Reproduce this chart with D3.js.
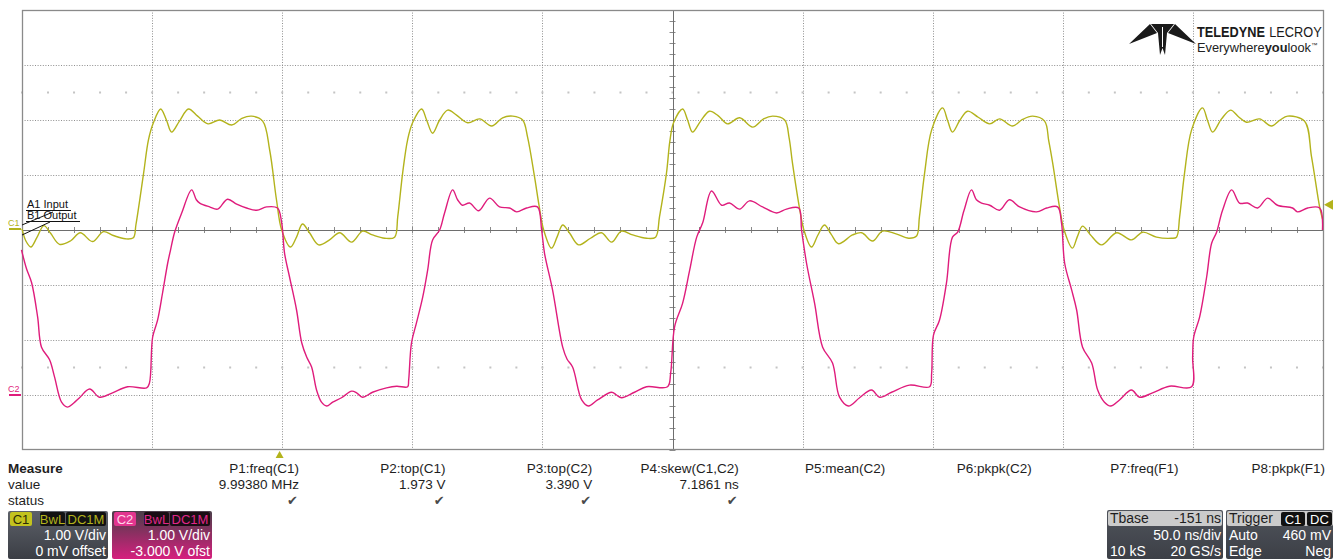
<!DOCTYPE html>
<html>
<head>
<meta charset="utf-8">
<script src="https://cdn.jsdelivr.net/npm/d3@7"></script>
<style>
  body { margin: 0; background: #fff; }
  svg { display: block; font-family: "Liberation Sans", Arial, sans-serif; }
</style>
</head>
<body>
<div id="scope"></div>
<script>
// Timebase: 50 ns/div, 10 divs, trigger (t=0) at -151 ns delay
var timeDomain = [-99, 401];
var nsPerDiv = 50;
// Volts shown on screen for each channel (1 V/div, 8 divs)
var c1Domain = [-4, 4];       // 0 mV offset
var c2Domain = [-1, 7];       // -3.000 V offset
var triggerLevel = 0.46;      // V on C1, negative edge

// C1 (input), [ns, V]
var c1Trace = [
  [-99,0.02],[-97.5,-0.2],[-95.6,-0.31],[-93.3,-0.14],[-90.6,0.08],[-88,-0.06],[-84.6,-0.26],[-80.4,-0.2],
  [-76.6,-0.05],[-71.9,-0.21],[-67.7,-0.03],[-63.9,-0.1],[-59.3,-0.16],[-56.2,-0.14],[-55.2,0.1],[-52.3,1.02],
  [-50.4,1.64],[-48.5,1.95],[-45.7,2.2],[-43.5,2.0],[-41.5,1.78],[-38.5,1.98],[-35,2.2],[-31.5,2.07],
  [-27.5,1.93],[-23,2.0],[-18.4,1.91],[-14.5,2.03],[-10.8,2.07],[-6.5,1.98],[-3.8,1.45],[-1.2,0.55],
  [0.8,0.0],[4.2,-0.31],[6.5,-0.13],[8.8,0.11],[11.5,-0.05],[15.0,-0.27],[19.2,-0.18],[23.1,-0.05],
  [27.7,-0.22],[31.9,-0.02],[35.7,-0.09],[40.4,-0.15],[44.2,-0.13],[45.4,0.24],[47.3,1.04],[49.2,1.64],
  [51.1,1.95],[54.6,2.2],[56.5,2.0],[58.8,1.76],[61.5,2.0],[64.6,2.18],[68.0,2.09],[72.3,1.95],
  [76.9,2.02],[81.5,1.89],[85.7,2.04],[89.6,2.07],[93.4,2.0],[95.3,1.69],[98.0,0.96],[99.8,0.42],
  [101.5,0.0],[104.5,-0.33],[106.7,-0.12],[108.8,0.09],[111.5,-0.06],[114.9,-0.27],[119.5,-0.15],[123.7,-0.05],
  [127.6,-0.22],[131.4,-0.02],[135.7,-0.09],[141.0,-0.15],[144.5,-0.13],[146.0,0.24],[148.7,1.04],[150.0,1.62],
  [151.4,1.95],[154.9,2.2],[156.8,2.0],[158.7,1.78],[161.8,1.98],[165.2,2.16],[168.5,2.08],[172.2,1.93],
  [176.8,2.04],[181.8,1.87],[186.0,2.02],[189.5,2.07],[194.1,2.0],[195.8,1.68],[197.1,1.22],[199.8,0.4],
  [201.5,0.0],[204.4,-0.31],[206.8,-0.1],[209.4,0.09],[212,-0.08],[214.8,-0.25],[220.2,-0.09],[223.7,-0.05],
  [227.9,-0.2],[231.7,-0.02],[236.9,-0.07],[241.8,-0.15],[244.8,-0.11],[245.9,0.24],[247.9,1.04],[250.6,1.82],
  [254.8,2.22],[256.8,1.98],[258.6,1.78],[261.5,2.0],[264.4,2.16],[268.5,2.05],[272.9,1.93],[276.7,2.02],
  [281.7,1.89],[285.5,2.01],[289.4,2.07],[294.0,1.98],[295.6,1.62],[297.1,1.22],[299.8,0.4],
  [301.5,0.0],[304.7,-0.33],[306.6,-0.12],[308.6,0.07],[311.5,-0.08],[315.9,-0.27],[321.7,-0.05],[327.4,-0.18],
  [331.7,-0.04],[337.0,-0.13],[342.8,-0.15],[344.7,-0.13],[345.9,0.24],[347.8,1.04],[350.5,1.82],[354.7,2.22],
  [356.7,1.98],[358.6,1.78],[362,2.02],[365.5,2.18],[368.5,2.06],[371.6,1.96],[376.6,2.02],[381.2,1.89],
  [384.5,2.0],[387.4,2.07],[393.9,1.98],[396.6,1.33],[399.7,0.42],[400.8,0.2]
];

// C2 (output), [ns, V]
var c2Trace = [
  [-99.2,2.64],[-97.3,2.3],[-95.3,2.04],[-93.0,1.42],[-91.5,0.87],[-88.4,0.64],[-86.5,0.33],[-83.8,-0.13],
  [-81.5,-0.22],[-79.2,-0.15],[-76.9,-0.05],[-73.0,0.11],[-69.2,-0.04],[-64.2,0.04],[-58.4,0.15],[-51.1,0.13],
  [-50.0,0.22],[-48.8,1.05],[-46.9,1.36],[-45.0,1.85],[-43.0,2.4],[-41.9,2.64],[-40.4,2.95],[-37.7,3.3],
  [-33.8,3.73],[-32,3.55],[-30.7,3.49],[-26.9,3.42],[-23.8,3.38],[-20.0,3.56],[-16.5,3.47],[-12.7,3.40],
  [-8.8,3.36],[-5.0,3.42],[-0.8,3.40],
  [0.8,3.13],[1.9,2.58],[3.8,2.15],[6.5,1.55],[8.5,0.95],[10.4,0.69],[12.3,0.51],[14.2,0.09],
  [16.1,-0.13],[18.1,-0.2],[20.4,-0.13],[23.8,-0.05],[27.7,0.07],[29.6,0.04],[31.9,-0.04],[35.7,0.05],
  [41.1,0.13],[45.0,0.16],[49.2,0.15],[49.6,0.27],[50.7,0.95],[52.6,1.31],[55.0,1.78],[56.9,2.27],
  [58.8,2.82],[61.5,3.0],[63.4,3.31],[66.5,3.73],[68.4,3.55],[70.3,3.45],[73.0,3.49],[76.5,3.35],
  [80.7,3.58],[84.5,3.42],[88.4,3.40],[91.1,3.33],[94.9,3.40],[99.1,3.42],
  [100.7,3.0],[101.8,2.58],[104.9,1.91],[108.8,0.87],[110.5,0.65],[112.6,0.51],[116.1,-0.09],[118.7,-0.2],
  [122.2,-0.09],[127.6,0.05],[129.5,0.0],[131.4,-0.05],[136.4,0.05],[141.0,0.15],[149.1,0.15],[150.3,0.4],
  [151.8,1.24],[154.9,1.67],[157.6,2.27],[160.3,2.87],[162.6,3.13],[166.0,3.71],[169.9,3.45],[172.9,3.49],
  [176.8,3.38],[180.6,3.53],[185.6,3.42],[191.0,3.31],[194.8,3.38],[199.5,3.40],
  [200.6,3.0],[202.5,2.4],[205.6,1.67],[208.7,0.87],[212.5,0.58],[215.2,-0.04],[218.6,-0.2],[222.9,-0.05],
  [227.5,0.09],[230.6,-0.04],[235.2,0.05],[242.1,0.18],[249.8,0.15],[250.6,0.4],[251.3,1.09],[253.6,1.36],
  [256.3,2.04],[258.6,2.87],[260.6,2.96],[263,3.35],[265.9,3.73],[267.8,3.55],[269.8,3.49],[272.9,3.45],
  [276.7,3.36],[280.5,3.55],[284.4,3.42],[290.9,3.33],[294.8,3.40],[299.0,3.42],
  [300.5,3.13],[301.7,2.4],[304.4,1.91],[306.3,1.55],[308.6,0.87],[312.1,0.58],[314.4,0.09],[317.0,-0.13],
  [319.4,-0.2],[322.8,-0.09],[327.4,0.09],[330.5,-0.04],[335.5,0.04],[342.0,0.16],[350.5,0.15],[350.9,0.69],
  [351.3,1.05],[353.6,1.42],[356.3,2.15],[358.2,2.76],[360.1,2.96],[362.4,3.36],[365.9,3.73],[368.9,3.49],
  [372.0,3.49],[375.9,3.40],[379.7,3.58],[383.5,3.45],[389.3,3.40],[391.2,3.33],[395.1,3.40],[399.7,3.40],
  [400.8,3.0]
];

// Measurement table
var measureNames = ["P1:freq(C1)", "P2:top(C1)", "P3:top(C2)", "P4:skew(C1,C2)",
                    "P5:mean(C2)", "P6:pkpk(C2)", "P7:freq(F1)", "P8:pkpk(F1)"];
var measureValues = ["9.99380 MHz", "1.973 V", "3.390 V", "7.1861 ns", "", "", "", ""];
var measureStatus = [true, true, true, true, false, false, false, false];

// Channel / timebase / trigger descriptors
var chanNames = ["C1", "C2"];
var chanVdiv = ["1.00 V/div", "1.00 V/div"];
var chanOffset = ["0 mV offset", "-3.000 V ofst"];
var tbaseText = ["Tbase", "-151 ns", "50.0 ns/div", "10 kS", "20 GS/s"];
var trigText = ["Trigger", "Auto", "460 mV", "Edge", "Neg"];

var W = 1333, H = 559;
var grid = {left: 22, right: 1323, top: 10, bottom: 450};
var c1Color = "#b3b31c", c2Color = "#df1c7c";

var svg = d3.select("#scope").append("svg")
    .attr("width", W).attr("height", H)
    .attr("viewBox", "0 0 " + W + " " + H);

var x = d3.scaleLinear().domain(timeDomain).range([grid.left, grid.right]);
var y1 = d3.scaleLinear().domain(c1Domain).range([grid.bottom, grid.top]);
var y2 = d3.scaleLinear().domain(c2Domain).range([grid.bottom, grid.top]);
var tCenter = (timeDomain[0] + timeDomain[1]) / 2;

var defs = svg.append("defs");
function grad(id, top, bottom) {
    var g = defs.append("linearGradient").attr("id", id)
        .attr("x1", 0).attr("y1", 0).attr("x2", 0).attr("y2", 1);
    g.append("stop").attr("offset", "0%").attr("stop-color", top);
    g.append("stop").attr("offset", "100%").attr("stop-color", bottom);
}
grad("gC1", "#5d6169", "#3b3e45");
grad("gC2", "#4a3e49", "#d61f7e");
grad("gTb", "#50545c", "#3c3f46");

// ---- graticule ----
var gGrid = svg.append("g");
var vTicks = d3.range(c1Domain[0] + 1, c1Domain[1], 1);
var tTicks = d3.range(timeDomain[0] + nsPerDiv, timeDomain[1] - 1, nsPerDiv);

gGrid.selectAll(".hl").data(vTicks.filter(function (v) { return v !== 0; }))
    .enter().append("line")
    .attr("x1", grid.left).attr("x2", grid.right)
    .attr("y1", function (v) { return y1(v) + 0.5; }).attr("y2", function (v) { return y1(v) + 0.5; })
    .attr("stroke", "#8f8f8f").attr("stroke-dasharray", "1,1.6");
gGrid.selectAll(".vl").data(tTicks.filter(function (t) { return Math.abs(t - tCenter) > 1; }))
    .enter().append("line")
    .attr("y1", grid.top).attr("y2", grid.bottom)
    .attr("x1", function (t) { return Math.round(x(t)) + 0.5; }).attr("x2", function (t) { return Math.round(x(t)) + 0.5; })
    .attr("stroke", "#8f8f8f").attr("stroke-dasharray", "1,1.6");

// minor marks: rows at +/-2.5 div and ticks on the centre axes
var minorT = d3.range(timeDomain[0], timeDomain[1] + 0.1, nsPerDiv / 5);
[2.5, -2.5].forEach(function (v) {
    gGrid.selectAll(null).data(minorT).enter().append("rect")
        .attr("x", function (t) { return x(t) - 1; }).attr("y", y1(v) - 1)
        .attr("width", 2).attr("height", 2).attr("fill", "#c4c4c4");
});
gGrid.selectAll(null).data(minorT).enter().append("line")
    .attr("x1", function (t) { return Math.round(x(t)) + 0.5; }).attr("x2", function (t) { return Math.round(x(t)) + 0.5; })
    .attr("y1", y1(0) - 3).attr("y2", y1(0) + 3)
    .attr("stroke", "#8a8a8a");
var minorV = d3.range(c1Domain[0], c1Domain[1] + 0.01, 0.2);
gGrid.selectAll(null).data(minorV).enter().append("line")
    .attr("y1", function (v) { return Math.round(y1(v)) + 0.5; }).attr("y2", function (v) { return Math.round(y1(v)) + 0.5; })
    .attr("x1", x(tCenter) - 3).attr("x2", x(tCenter) + 3)
    .attr("stroke", "#8a8a8a");

// centre axes
gGrid.append("line").attr("x1", grid.left).attr("x2", grid.right)
    .attr("y1", y1(0) + 0.5).attr("y2", y1(0) + 0.5).attr("stroke", "#6e6e6e");
gGrid.append("line").attr("y1", grid.top).attr("y2", grid.bottom)
    .attr("x1", Math.round(x(tCenter)) + 0.5).attr("x2", Math.round(x(tCenter)) + 0.5).attr("stroke", "#6e6e6e");
// border
gGrid.append("rect").attr("x", grid.left + 0.5).attr("y", grid.top + 0.5)
    .attr("width", grid.right - grid.left).attr("height", grid.bottom - grid.top - 1)
    .attr("fill", "none").attr("stroke", "#8a8a8a").attr("stroke-width", 1.3);

// ---- traces ----
var line1 = d3.line().x(function (d) { return x(d[0]); }).y(function (d) { return y1(d[1]); })
    .curve(d3.curveCatmullRom.alpha(0.5));
var line2 = d3.line().x(function (d) { return x(d[0]); }).y(function (d) { return y2(d[1]); })
    .curve(d3.curveCatmullRom.alpha(0.5));
svg.append("path").datum(c1Trace).attr("d", line1)
    .attr("fill", "none").attr("stroke", c1Color).attr("stroke-width", 1.4);
svg.append("path").datum(c2Trace).attr("d", line2)
    .attr("fill", "none").attr("stroke", c2Color).attr("stroke-width", 1.4);

// channel markers on the left edge
svg.append("text").attr("x", 8).attr("y", y1(0) - 4).attr("font-size", 9).attr("fill", c1Color).text("C1");
svg.append("line").attr("x1", 9).attr("x2", 21).attr("y1", y1(0) - 1).attr("y2", y1(0) - 1)
    .attr("stroke", c1Color).attr("stroke-width", 2);
svg.append("text").attr("x", 8).attr("y", y2(0) - 3).attr("font-size", 9).attr("fill", c2Color).text("C2");
svg.append("line").attr("x1", 9).attr("x2", 21).attr("y1", y2(0)).attr("y2", y2(0))
    .attr("stroke", c2Color).attr("stroke-width", 2);

// trigger markers
svg.append("path")
    .attr("d", "M" + x(0) + "," + (grid.bottom + 1) + " l-4,7 l8,0 z")
    .attr("fill", c1Color);
svg.append("path")
    .attr("d", "M" + (grid.right + 1) + "," + y1(triggerLevel) + " l9,-5 l0,10 z")
    .attr("fill", c1Color);

// trace annotations
var gAnn = svg.append("g").attr("font-size", 11).attr("fill", "#111");
gAnn.append("text").attr("x", 27).attr("y", 208).text("A1 Input");
gAnn.append("text").attr("x", 27).attr("y", 219).text("B1 Output");
gAnn.append("line").attr("x1", 26).attr("x2", 71).attr("y1", 210.5).attr("y2", 210.5).attr("stroke", "#111");
gAnn.append("line").attr("x1", 26).attr("x2", 80).attr("y1", 221.5).attr("y2", 221.5).attr("stroke", "#111");
gAnn.append("line").attr("x1", 22).attr("y1", 225).attr("x2", 53).attr("y2", 212).attr("stroke", "#111");
gAnn.append("line").attr("x1", 22).attr("y1", 235).attr("x2", 50).attr("y2", 222).attr("stroke", "#111");

// ---- logo ----
var gLogo = svg.append("g");
gLogo.append("path").attr("fill", "#1a1a1a")
    .attr("d", "M1150,24 L1129,44 L1157,33 Z M1175,24 L1196,44 L1168,33 Z " +
               "M1151,24 L1174,24 L1167,33 L1165,55 L1162.5,48 L1160,55 L1158,33 Z");
gLogo.append("line").attr("x1", 1162.5).attr("x2", 1162.5).attr("y1", 27).attr("y2", 47)
    .attr("stroke", "#fff").attr("stroke-width", 1);
// condensed brand line
var brand = gLogo.append("g").attr("transform", "translate(1197,37) scale(0.85,1)")
    .attr("font-size", 15).attr("fill", "#1a1a1a");
brand.append("text").attr("x", 0).attr("y", 0).attr("font-weight", "bold").text("TELEDYNE");
brand.append("text").attr("x", 85).attr("y", 0).text("LECROY");
var tag = gLogo.append("g").attr("transform", "translate(1197,52) scale(1.07,1)")
    .append("text").attr("x", 0).attr("y", 0).attr("font-size", 12).attr("fill", "#222");
tag.append("tspan").text("Everywhere");
tag.append("tspan").attr("font-weight", "bold").text("you");
tag.append("tspan").text("look");
tag.append("tspan").attr("font-size", 6).attr("dy", -5).text("\u2122");

// ---- measurement table ----
var gM = svg.append("g").attr("font-size", 13.5).attr("fill", "#1e1e1e");
gM.append("text").attr("x", 8).attr("y", 473).attr("font-weight", "bold").text("Measure");
gM.append("text").attr("x", 8).attr("y", 489).text("value");
gM.append("text").attr("x", 8).attr("y", 505).text("status");
var colX = d3.scalePoint().domain(measureNames).range([299, 1325]);
gM.selectAll(".mn").data(measureNames).enter().append("text")
    .attr("x", function (d) { return colX(d); }).attr("y", 473).attr("text-anchor", "end").text(function (d) { return d; });
gM.selectAll(".mv").data(measureValues).enter().append("text")
    .attr("x", function (d, i) { return colX(measureNames[i]); }).attr("y", 489).attr("text-anchor", "end")
    .text(function (d) { return d; });
gM.selectAll(".ms").data(measureStatus).enter().append("text")
    .attr("x", function (d, i) { return colX(measureNames[i]) - 1; }).attr("y", 505).attr("text-anchor", "end")
    .attr("font-family", "DejaVu Sans").attr("font-size", 13).attr("fill", "#4a4a4a")
    .text(function (d) { return d ? "\u2714" : ""; });

// ---- channel boxes ----
function tagBox(g, x0, w, label, bg, fg) {
    g.append("rect").attr("x", x0).attr("y", 512).attr("width", w).attr("height", 14).attr("rx", 2).attr("fill", bg);
    g.append("text").attr("x", x0 + w / 2).attr("y", 524).attr("text-anchor", "middle")
        .attr("font-size", 13).attr("fill", fg).text(label);
}
var chanX = [8, 112];
var chanBg = ["url(#gC1)", "url(#gC2)"];
var chanTag = [["#c3c31e", "#2b2b05", "#121212", c1Color], ["#e2358f", "#ffd6ea", "#1a0d14", "#e0268a"]];
chanNames.forEach(function (name, i) {
    var g = svg.append("g");
    var x0 = chanX[i];
    g.append("rect").attr("x", x0).attr("y", 511).attr("width", 100).attr("height", 48).attr("rx", 2).attr("fill", chanBg[i]);
    tagBox(g, x0 + 2, 22, name, chanTag[i][0], chanTag[i][1]);
    tagBox(g, x0 + 32, 25, "BwL", chanTag[i][2], chanTag[i][3]);
    tagBox(g, x0 + 58, 40, "DC1M", chanTag[i][2], chanTag[i][3]);
    g.append("text").attr("x", x0 + 98).attr("y", 540).attr("text-anchor", "end")
        .attr("font-size", 14).attr("fill", "#fff").text(chanVdiv[i]);
    g.append("text").attr("x", x0 + 98).attr("y", 556).attr("text-anchor", "end")
        .attr("font-size", 14).attr("fill", "#fff").text(chanOffset[i]);
});

// ---- timebase / trigger boxes ----
var gT = svg.append("g").attr("font-size", 14);
gT.append("rect").attr("x", 1107).attr("y", 510).attr("width", 116).attr("height", 49).attr("rx", 2).attr("fill", "url(#gTb)");
gT.append("rect").attr("x", 1108).attr("y", 511).attr("width", 114).attr("height", 15).attr("rx", 2).attr("fill", "#cbcbcb");
gT.append("text").attr("x", 1110).attr("y", 523).attr("fill", "#1e1e1e").text(tbaseText[0]);
gT.append("text").attr("x", 1221).attr("y", 523).attr("text-anchor", "end").attr("fill", "#1e1e1e").text(tbaseText[1]);
gT.append("text").attr("x", 1221).attr("y", 540).attr("text-anchor", "end").attr("fill", "#fff").text(tbaseText[2]);
gT.append("text").attr("x", 1110).attr("y", 556).attr("fill", "#fff").text(tbaseText[3]);
gT.append("text").attr("x", 1221).attr("y", 556).attr("text-anchor", "end").attr("fill", "#fff").text(tbaseText[4]);

gT.append("rect").attr("x", 1226).attr("y", 510).attr("width", 107).attr("height", 49).attr("rx", 2).attr("fill", "url(#gTb)");
gT.append("rect").attr("x", 1227).attr("y", 511).attr("width", 106).attr("height", 15).attr("rx", 2).attr("fill", "#cbcbcb");
gT.append("text").attr("x", 1229).attr("y", 523).attr("fill", "#1e1e1e").text(trigText[0]);
tagBox(gT, 1281, 24, "C1", "#111", "#fff");
tagBox(gT, 1307, 25, "DC", "#111", "#fff");
gT.append("text").attr("x", 1229).attr("y", 540).attr("fill", "#fff").text(trigText[1]);
gT.append("text").attr("x", 1331).attr("y", 540).attr("text-anchor", "end").attr("fill", "#fff").text(trigText[2]);
gT.append("text").attr("x", 1229).attr("y", 556).attr("fill", "#fff").text(trigText[3]);
gT.append("text").attr("x", 1331).attr("y", 556).attr("text-anchor", "end").attr("fill", "#fff").text(trigText[4]);
</script>
</body>
</html>
